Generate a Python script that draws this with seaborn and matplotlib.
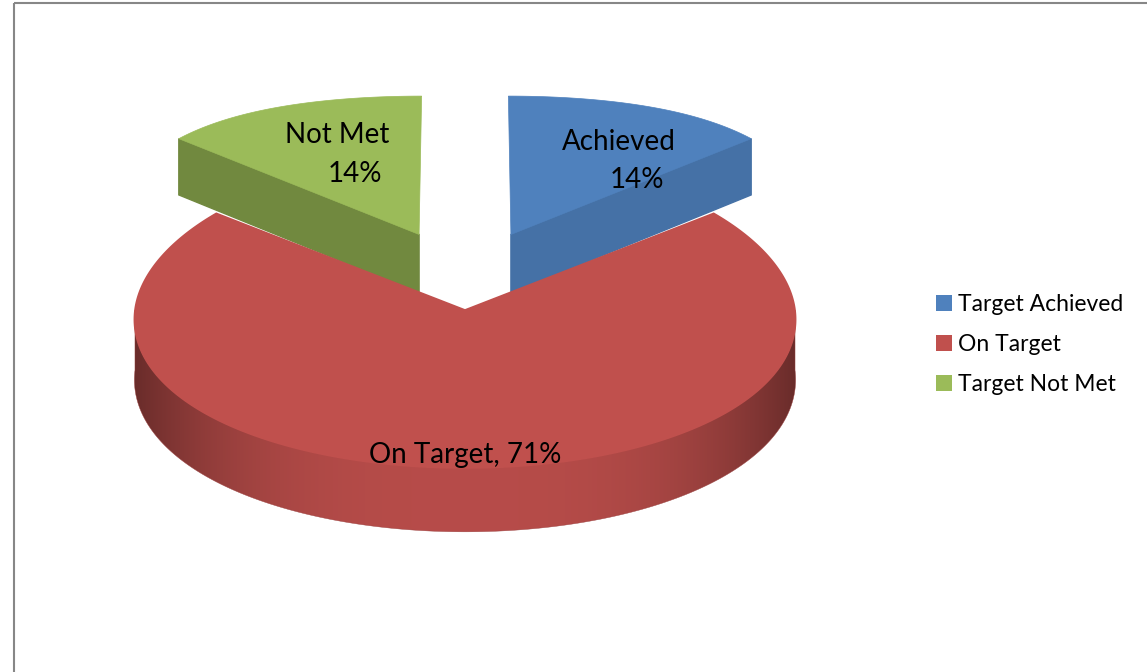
import numpy as np
import matplotlib
matplotlib.use('Agg')
import matplotlib.pyplot as plt
import matplotlib.colors as mcolors
import seaborn as sns
from matplotlib.patches import Polygon, Patch, Rectangle

categories = ['Target Achieved', 'On Target', 'Target Not Met']
values = [1, 5, 1]
colors = ['#4F81BD', '#C0504D', '#9BBB59']
side_colors = ['#4571A6', '#9E403D', '#71893F']

W, H = 1147, 672
sns.set_style('white')
plt.rcParams['font.family'] = ['Lato', 'DejaVu Sans']
plt.rcParams['text.color'] = 'black'

fig = plt.figure(figsize=(W / 100, H / 100), dpi=100)
ax = fig.add_axes([0, 0, 1, 1])
ax.set_xlim(0, W)
ax.set_ylim(H, 0)
ax.axis('off')

# fake 3d: flattened disc, front half deeper, a bit of perspective at the back
cx, cy = 465, 310
rx, ry_front, ry_back = 330, 158, 155
depth, persp = 60, 0.06


def proj(X, Y, bottom=False):
    X = np.asarray(X, float)
    Y = np.asarray(Y, float)
    s = 1 / (1 + persp * Y)
    u = cx + rx * X * s
    f = np.where(Y < 0, ry_front * Y, ry_back * Y - 70 * np.clip(Y - 1, 0, None) ** 2)
    v = cy - f
    if bottom:
        v = v + depth * s
    return np.column_stack([u, v])


def shade(c):
    return 0.95 - 0.40 * np.abs(c) ** 2.9


fracs = np.array(values) / sum(values)
pct = np.round(fracs * 100).astype(int)
ends = 90 - np.cumsum(fracs) * 360
starts = ends + fracs * 360
explode = [0.33, 0, 0.33]
lift = [0.19, 0, 0.19]

for i in [0, 2, 1]:
    a0, a1 = starts[i], ends[i]
    mid = np.radians((a0 + a1) / 2)
    ox = explode[i] * np.cos(mid)
    oy = explode[i] * np.sin(mid) + lift[i]
    th = np.radians(np.linspace(a0, a1, 600))
    rimX = ox + np.cos(th)
    rimY = oy + np.sin(th)
    # flat radial faces
    for a, sgn in [(a1, -1), (a0, 1)]:
        if np.sin(np.radians(a + sgn * 90)) < -1e-6:
            ex = [ox, ox + np.cos(np.radians(a))]
            ey = [oy, oy + np.sin(np.radians(a))]
            poly = np.vstack([proj(ex, ey), proj(ex, ey, True)[::-1]])
            ax.add_patch(Polygon(poly, closed=True, fc=side_colors[i], ec=side_colors[i], lw=1.0))
    # curved outer wall with horizontal gradient
    vis = np.sin(th) < 0
    if vis.any():
        tp = proj(rimX[vis], rimY[vis])
        bp = proj(rimX[vis], rimY[vis], True)
        wall = Polygon(np.vstack([tp, bp[::-1]]), closed=True, fc='none', ec='none')
        ax.add_patch(wall)
        x0, x1 = tp[:, 0].min() - 2, tp[:, 0].max() + 2
        xs = np.linspace(x0, x1, 600)
        base = np.array(mcolors.to_rgb(colors[i]))
        grad = np.clip(base[None, :] * shade((xs - cx) / rx)[:, None], 0, 1)[None, :, :]
        y0, y1 = tp[:, 1].min() - 2, bp[:, 1].max() + 2
        im = ax.imshow(grad, extent=(x0, x1, y1, y0), aspect='auto', interpolation='bilinear')
        im.set_clip_path(wall)
        ax.add_patch(Polygon(np.vstack([tp, bp[::-1]]), closed=True, fill=False,
                             ec=tuple(base * 0.8), lw=0.3))
    # top face
    top = proj(np.r_[ox, rimX], np.r_[oy, rimY])
    ax.add_patch(Polygon(top, closed=True, fc=colors[i], ec=colors[i], lw=1.2 if i == 1 else 0.5))

ax.set_xlim(0, W)
ax.set_ylim(H, 0)

ax.text(619, 150, 'Achieved', ha='center', va='baseline', fontsize=20)
ax.text(637, 188, f'{pct[0]}%', ha='center', va='baseline', fontsize=20)
ax.text(337, 143, 'Not Met', ha='center', va='baseline', fontsize=20)
ax.text(355, 182, f'{pct[2]}%', ha='center', va='baseline', fontsize=20)
ax.text(465, 463, f'On Target, {pct[1]}%', ha='center', va='baseline', fontsize=20)

handles = [Patch(fc=c, ec='none') for c in colors]
ax.legend(handles, categories, loc='upper left', bbox_to_anchor=(936 / W, 1 - 294 / H),
          frameon=False, fontsize=16.5, handlelength=0.7, handleheight=0.7,
          handletextpad=0.28, labelspacing=0.83, borderpad=0, borderaxespad=0)

ax.add_patch(Rectangle((14, 3), 1300, 800, fill=False, ec='#878787', lw=1.5, clip_on=False))

fig.savefig('out.png', dpi=100)
